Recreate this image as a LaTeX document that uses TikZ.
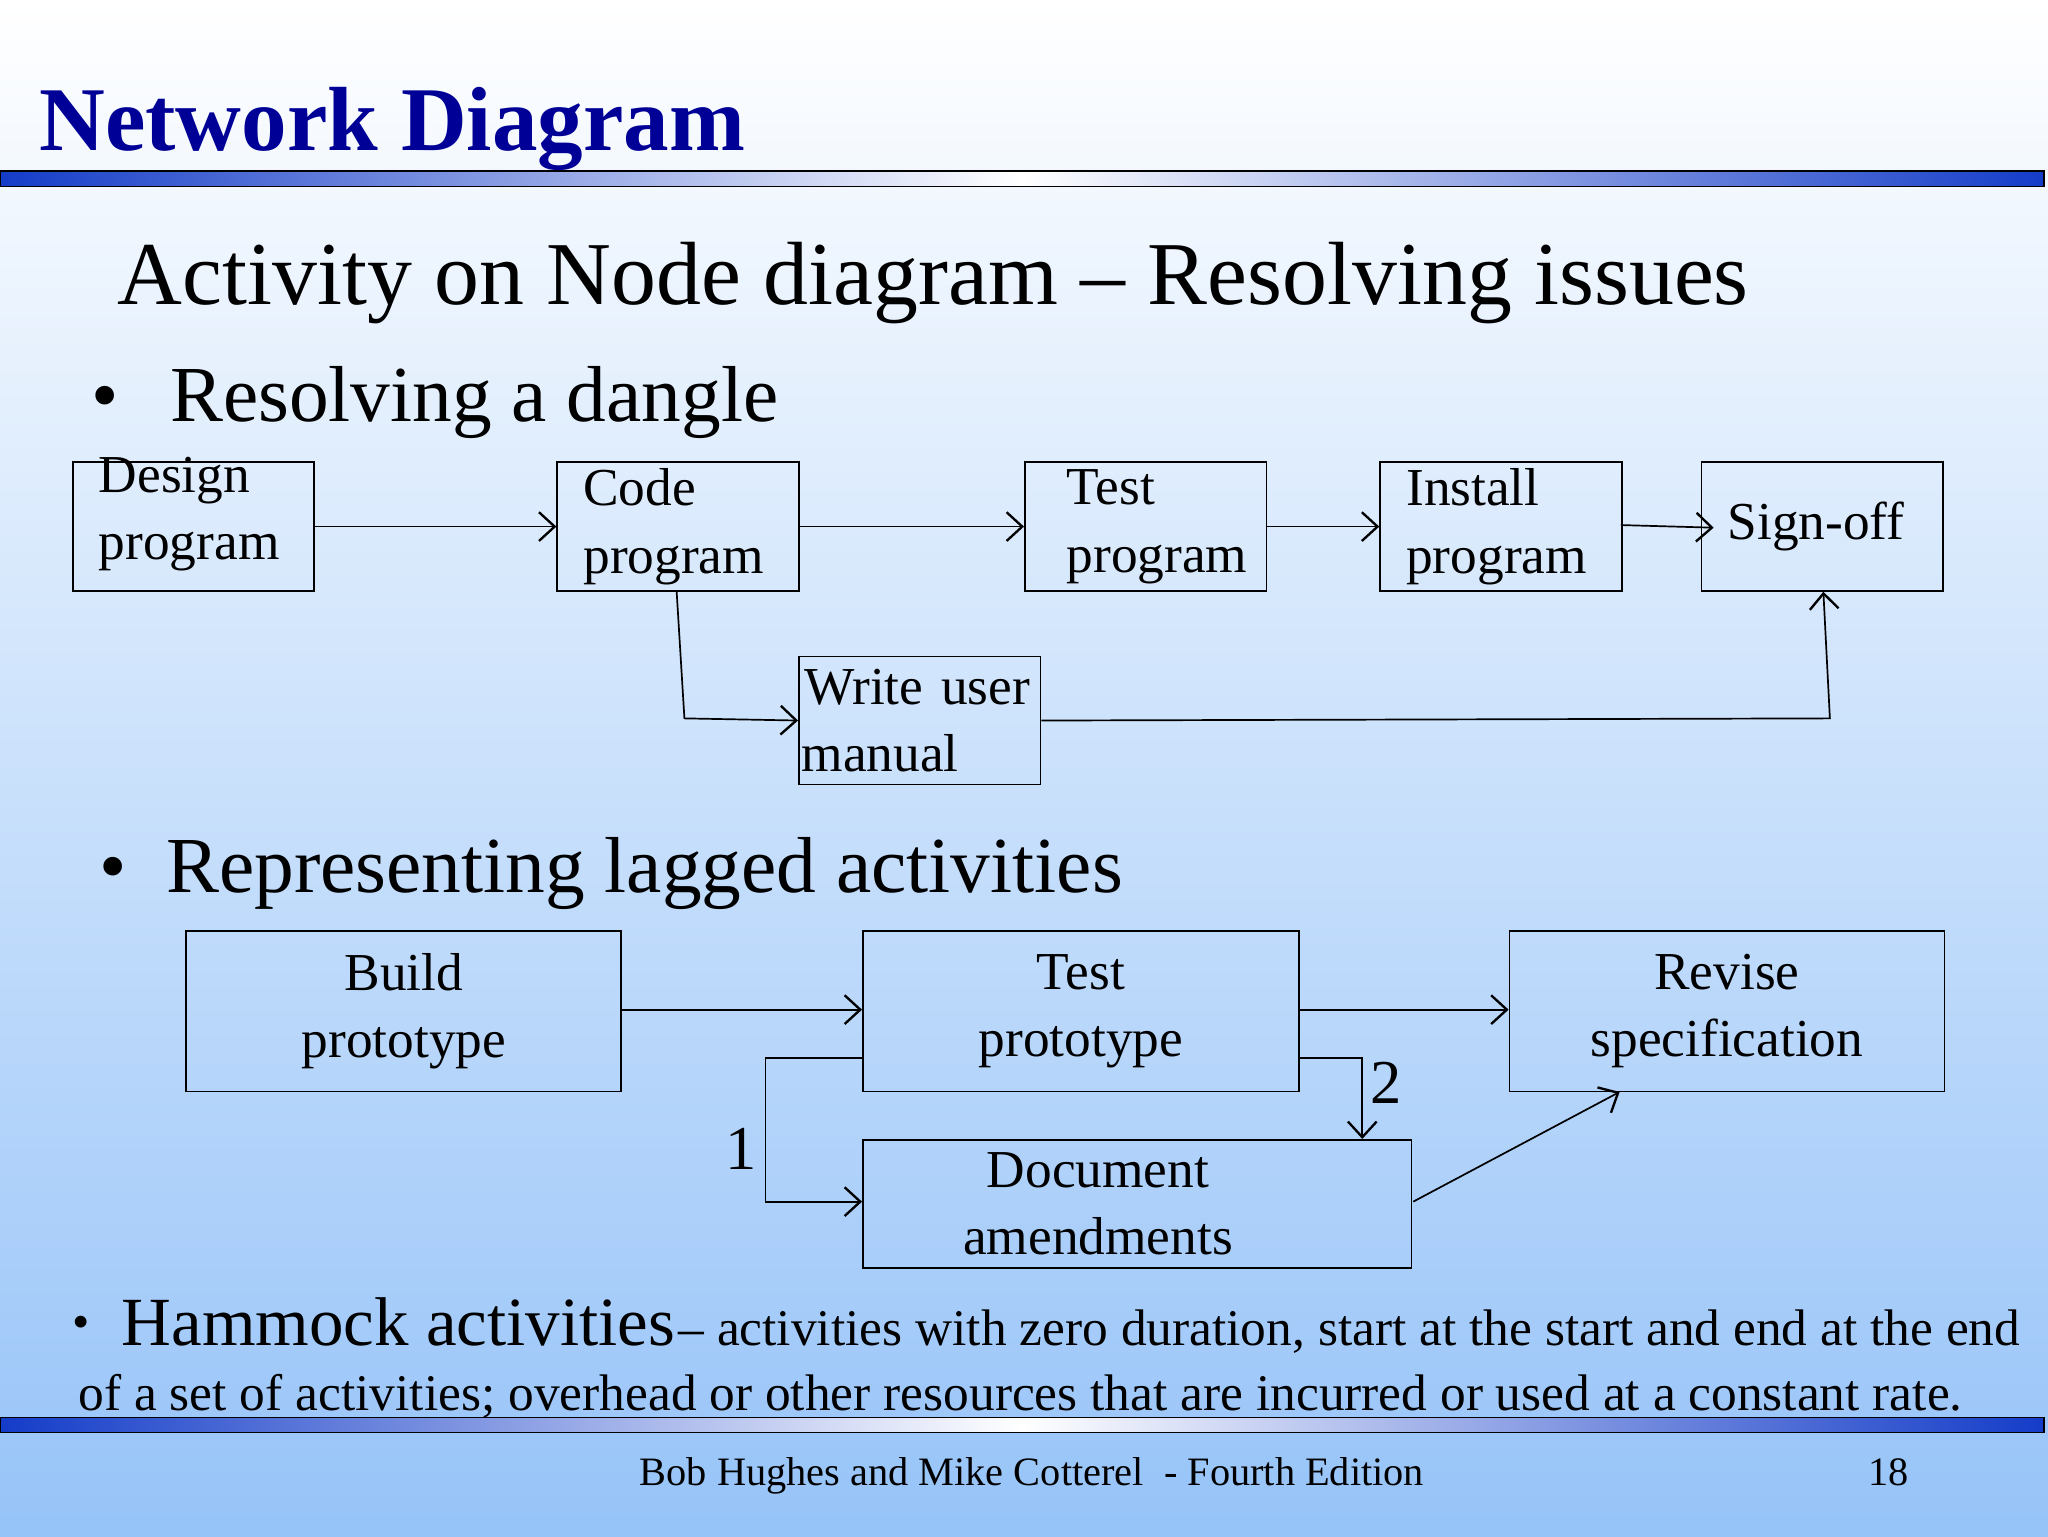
\documentclass[tikz,border=0pt]{standalone}
\usepackage{fontspec}
\setmainfont{Liberation Serif}
\usetikzlibrary{arrows.meta}
\definecolor{tblue}{RGB}{0,0,150}
\definecolor{bgb}{RGB}{150,195,248}
\definecolor{barb}{RGB}{20,60,200}
\begin{document}
\begin{tikzpicture}[x=1bp,y=-1bp,
 box/.style={draw=black,line width=1.3bp,minimum height=99bp,inner sep=0pt,align=left,anchor=north west},
 cbox/.style={draw=black,line width=1.3bp,inner sep=0pt,align=center,anchor=north west},
 bt/.style={font=\fontsize{41}{52}\selectfont},
 arr/.style={line width=1.3bp,-{Straight Barb[length=12bp,width=22bp,line width=1.8bp]}},
 tx/.style={anchor=base west,inner sep=0pt}]
\useasboundingbox (0,0) rectangle (1568,1176);
\shade[top color=white,bottom color=bgb] (0,0) rectangle (1568,1176);
\shade[left color=barb,right color=barb,middle color=white,draw=black,line width=1bp] (0,131) rectangle (1565,143);
\shade[left color=barb,right color=barb,middle color=white,draw=black,line width=1bp] (0,1085) rectangle (1565,1097);
\node[tx,text=tblue,font=\bfseries\fontsize{70}{74}\selectfont] (title) at (30,115) {Network Diagram};
\node[tx,font=\fontsize{69}{74}\selectfont] (sub) at (90,233) {Activity on Node diagram – Resolving issues};
\node[tx,font=\fontsize{60}{64}\selectfont] (b1) at (70,323) {•};
\node[tx,font=\fontsize{61}{64}\selectfont] (h1) at (130,323) {Resolving a dangle};
% row 1
\node[box,minimum width=185bp,text width=175bp,bt] (d) at (55,353) {\rule{0pt}{0pt}\\[-44bp]\hspace*{15bp}Design\\\hspace*{15bp}program};
\node[box,minimum width=185bp,text width=175bp,bt] (c) at (426,353) {\hspace*{15bp}Code\\\hspace*{15bp}program};
\node[box,minimum width=185bp,text width=175bp,bt] (t) at (784,353) {\hspace*{27bp}Test\\\hspace*{27bp}program};
\node[box,minimum width=185bp,text width=175bp,bt] (i) at (1056,353) {\hspace*{15bp}Install\\\hspace*{15bp}program};
\node[box,minimum width=185bp,text width=175bp,bt] (s) at (1302,353) {\hspace*{15bp}Sign-off};
\node[box,minimum width=185bp,text width=185bp,minimum height=98bp,bt] (w) at (611,502) {\hspace*{4bp}Write user\\\hspace*{2bp}manual};
\draw[arr] (d.east) -- (c.west);
\draw[arr] (c.east) -- (t.west);
\draw[arr] (t.east) -- (i.east -| i.west);
\draw[arr] (1241,402) -- (1312,404);
\draw[arr] (518,452) -- (524,550) -- (w.west);
\draw[arr] (w.east) -- (1401,550) -- (1396,453);
% lagged
\node[tx,font=\fontsize{60}{64}\selectfont] (b2) at (76,683) {•};
\node[tx,font=\fontsize{61}{64}\selectfont] (h2) at (127,683) {Representing lagged activities};
\node[cbox,minimum width=333bp,minimum height=123bp,bt] (bp) at (142,712) {Build\\prototype};
\node[cbox,minimum width=334bp,minimum height=123bp,bt] (tp) at (660,712) {\raisebox{-6bp}{\parbox{300bp}{\centering Test\\prototype}}};
\node[cbox,minimum width=333bp,minimum height=123bp,bt] (rs) at (1155,712) {\raisebox{-22bp}{\parbox{300bp}{\centering Revise\\specification}}};
\node[cbox,minimum width=420bp,minimum height=98bp,bt] (da) at (660,872) {\hspace*{-60bp}\parbox{360bp}{\centering Document\\amendments}};
\draw[arr] (475,773) -- (660,773);
\draw[arr] (994,773) -- (1155,773);
\draw[arr] (660,810) -- (586,810) -- (586,920) -- (660,920);
\node[tx,font=\fontsize{48}{52}\selectfont] (l1) at (555,895) {1};
\draw[arr] (994,810) -- (1043,810) -- (1043,872);
\node[tx,font=\fontsize{48}{52}\selectfont] (l2) at (1049,845) {2};
\draw[arr] (1082,920) -- (1240,836);
% hammock
\node[tx,font=\fontsize{38}{40}\selectfont] (b3) at (55,1025) {•};
\node[tx] (hm) at (93,1030) {{\fontsize{53}{56}\selectfont Hammock activities} {\fontsize{39.5}{44}\selectfont – activities with zero duration, start at the start and end at the end}};
\node[tx,font=\fontsize{39.5}{44}\selectfont] (hm2) at (60,1080) {of a set of activities; overhead or other resources that are incurred or used at a constant rate.};
\node[anchor=base,inner sep=0pt,font=\fontsize{31}{34}\selectfont] (ft) at (790,1137) {Bob Hughes and Mike Cotterel\ \ - Fourth Edition};
\node[anchor=base,inner sep=0pt,font=\fontsize{31}{34}\selectfont] (pg) at (1446,1137) {18};
\end{tikzpicture}
\end{document}
